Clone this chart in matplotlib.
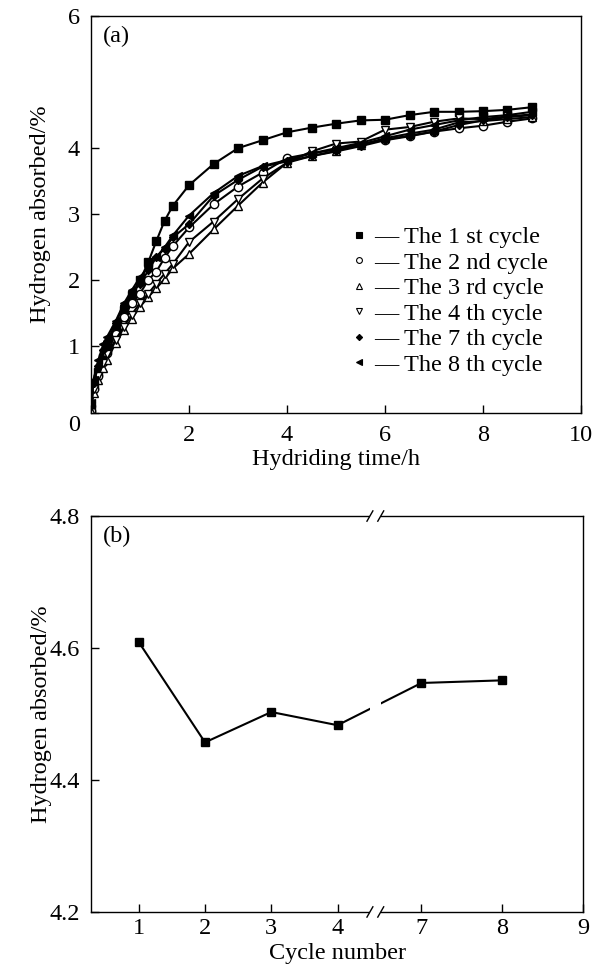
import matplotlib
matplotlib.use('Agg')
import matplotlib.pyplot as plt
import numpy as np
from matplotlib.lines import Line2D
from matplotlib.patches import Rectangle

# Panel (a): hydriding curves, time in h, absorbed hydrogen in %
time_h = [0, 0.05, 0.15, 0.25, 0.33, 0.5, 0.67, 0.83, 1.0, 1.17, 1.33, 1.5, 1.67,
          2.0, 2.5, 3.0, 3.5, 4.0, 4.5, 5.0, 5.5, 6.0, 6.5, 7.0, 7.5, 8.0, 8.5, 9.0]
cycle1 = [0.05, 0.40, 0.62, 0.82, 0.97, 1.25, 1.55, 1.78, 2.00, 2.28, 2.59, 2.90, 3.13,
          3.44, 3.76, 4.00, 4.12, 4.24, 4.31, 4.37, 4.42, 4.43, 4.50, 4.55, 4.55, 4.56, 4.58, 4.62]
cycle2 = [0.02, 0.35, 0.56, 0.76, 0.90, 1.19, 1.44, 1.65, 1.80, 2.01, 2.13, 2.34, 2.52,
          2.80, 3.15, 3.42, 3.63, 3.85, 3.92, 3.98, 4.06, 4.13, 4.19, 4.25, 4.30, 4.34, 4.40, 4.45]
cycle3 = [0.03, 0.30, 0.50, 0.68, 0.80, 1.05, 1.25, 1.42, 1.60, 1.75, 1.88, 2.02, 2.18,
          2.40, 2.77, 3.13, 3.48, 3.78, 3.88, 3.96, 4.05, 4.15, 4.22, 4.28, 4.39, 4.41, 4.44, 4.47]
cycle4 = [0.10, 0.35, 0.55, 0.75, 0.88, 1.10, 1.30, 1.48, 1.66, 1.80, 1.95, 2.10, 2.25,
          2.58, 2.89, 3.23, 3.54, 3.78, 3.95, 4.07, 4.10, 4.28, 4.32, 4.40, 4.45, 4.44, 4.48, 4.51]
cycle7 = [0.10, 0.45, 0.70, 0.95, 1.08, 1.35, 1.62, 1.80, 1.95, 2.15, 2.35, 2.48, 2.65,
          2.85, 3.28, 3.52, 3.72, 3.80, 3.88, 3.95, 4.03, 4.12, 4.18, 4.25, 4.35, 4.42, 4.47, 4.50]
cycle8 = [0.15, 0.50, 0.80, 1.03, 1.15, 1.38, 1.65, 1.85, 2.05, 2.20, 2.35, 2.50, 2.68,
          2.98, 3.32, 3.58, 3.73, 3.82, 3.92, 4.00, 4.08, 4.18, 4.28, 4.35, 4.42, 4.47, 4.50, 4.55]
cycle_labels = ['The 1 st cycle', 'The 2 nd cycle', 'The 3 rd cycle',
                'The 4 th cycle', 'The 7 th cycle', 'The 8 th cycle']

# Panel (b): capacity after 9 h vs cycle number
cycle_no = [1, 2, 3, 4, 7, 8]
capacity = [4.609, 4.457, 4.503, 4.483, 4.547, 4.551]
cycle_ticks = [1, 2, 3, 4, 7, 8, 9]

plt.rcParams['font.family'] = ['Liberation Serif', 'DejaVu Serif']
FS = 17.5

fig = plt.figure(figsize=(6.03, 9.68), dpi=100)
ax1 = fig.add_axes([0.151, 0.5738, 0.8125, 0.4097])
ax2 = fig.add_axes([0.151, 0.0579, 0.8160, 0.4090])

styles = [
    dict(marker='s', mfc='black', ms=5.5),
    dict(marker='o', mfc='white', ms=6),
    dict(marker='^', mfc='white', ms=6),
    dict(marker='v', mfc='white', ms=6),
    dict(marker='D', mfc='black', ms=4.5),
    dict(marker='<', mfc='black', ms=6),
]
series = [cycle1, cycle2, cycle3, cycle4, cycle7, cycle8]
for vals, st in zip(series, styles):
    ax1.plot(time_h, vals, color='black', lw=1.5, mec='black', mew=1.0, **st)

ax1.set_xlim(0, 10)
ax1.set_ylim(0, 6)
ax1.set_xticks([0, 2, 4, 6, 8, 10])
ax1.set_xticklabels(['', '2', '4', '6', '8', '10'])
ax1.set_yticks([0, 1, 2, 3, 4, 6])
ax1.set_yticklabels(['', '1', '2', '3', '4', '6'])
ax1.text(-0.022, -0.005, '0', transform=ax1.transAxes, fontsize=FS, ha='right', va='top')
ax1.set_xlabel('Hydriding time/h', fontsize=FS, labelpad=2)
ax1.set_ylabel('Hydrogen absorbed/%', fontsize=FS)
ax1.yaxis.set_label_coords(-0.082, 0.5)
ax1.text(0.025, 0.975, '(a)', transform=ax1.transAxes, fontsize=FS, va='top', ha='left')

handles = [Line2D([], [], ls='none', color='black', mec='black', mew=0.8,
                  marker=st['marker'], mfc=st['mfc'], ms=st['ms'] * 0.7)
           for st in styles]
ax1.legend(handles, ['\u2014 ' + s for s in cycle_labels], loc='upper left',
           bbox_to_anchor=(352 / 603, 1 - 226 / 968), bbox_transform=fig.transFigure,
           frameon=False, fontsize=FS, handlelength=0.6, handletextpad=0.3,
           labelspacing=0.145, borderpad=0, borderaxespad=0)

# broken x axis for panel (b)
brk_lo, brk_hi, right_scale = 4.57, 6.43, 1.22


def fwd(x):
    x = np.asarray(x, dtype=float)
    return np.where(x <= brk_lo, x,
                    np.where(x >= brk_hi, brk_lo + (x - brk_hi) * right_scale, brk_lo))


def inv(u):
    u = np.asarray(u, dtype=float)
    return np.where(u <= brk_lo, u, brk_hi + (u - brk_lo) / right_scale)


ax2.set_xscale('function', functions=(fwd, inv))
ax2.plot(cycle_no, capacity, color='black', lw=1.5, marker='s', ms=6, mfc='black', mec='black')
ax2.set_xlim(0.28, 9)
ax2.set_ylim(4.2, 4.8)
ax2.set_xticks(cycle_ticks)
ax2.set_xticklabels([str(c) for c in cycle_ticks])
ax2.xaxis.set_minor_locator(matplotlib.ticker.NullLocator())
ax2.set_yticks([4.2, 4.4, 4.6, 4.8])
ax2.set_xlabel('Cycle number', fontsize=FS, labelpad=3)
ax2.set_ylabel('Hydrogen absorbed/%', fontsize=FS)
ax2.yaxis.set_label_coords(-0.08, 0.5)
ax2.text(0.025, 0.975, '(b)', transform=ax2.transAxes, fontsize=FS, va='top', ha='left')

# break marks
xb = float((fwd(brk_lo) - fwd(0.28)) / (fwd(9) - fwd(0.28)))
gap = 0.011
ax2.add_patch(Rectangle((xb - gap, -0.02), 2 * gap, 1.04, transform=ax2.transAxes,
                        facecolor='white', edgecolor='none', zorder=3, clip_on=False))
for yy in (0.0, 1.0):
    for dx in (-gap, gap):
        ax2.plot([xb + dx - 0.006, xb + dx + 0.006], [yy - 0.013, yy + 0.013],
                 transform=ax2.transAxes, color='black', lw=1.0, zorder=4, clip_on=False)

for ax in (ax1, ax2):
    ax.tick_params(direction='in', length=6, width=1.0, labelsize=FS,
                   top=False, right=False)
    ax.tick_params(axis='y', pad=8)
    for sp in ax.spines.values():
        sp.set_linewidth(1.0)
ax1.tick_params(axis='x', pad=9)
ax2.tick_params(axis='x', pad=4)

fig.savefig('out.png', dpi=100)
